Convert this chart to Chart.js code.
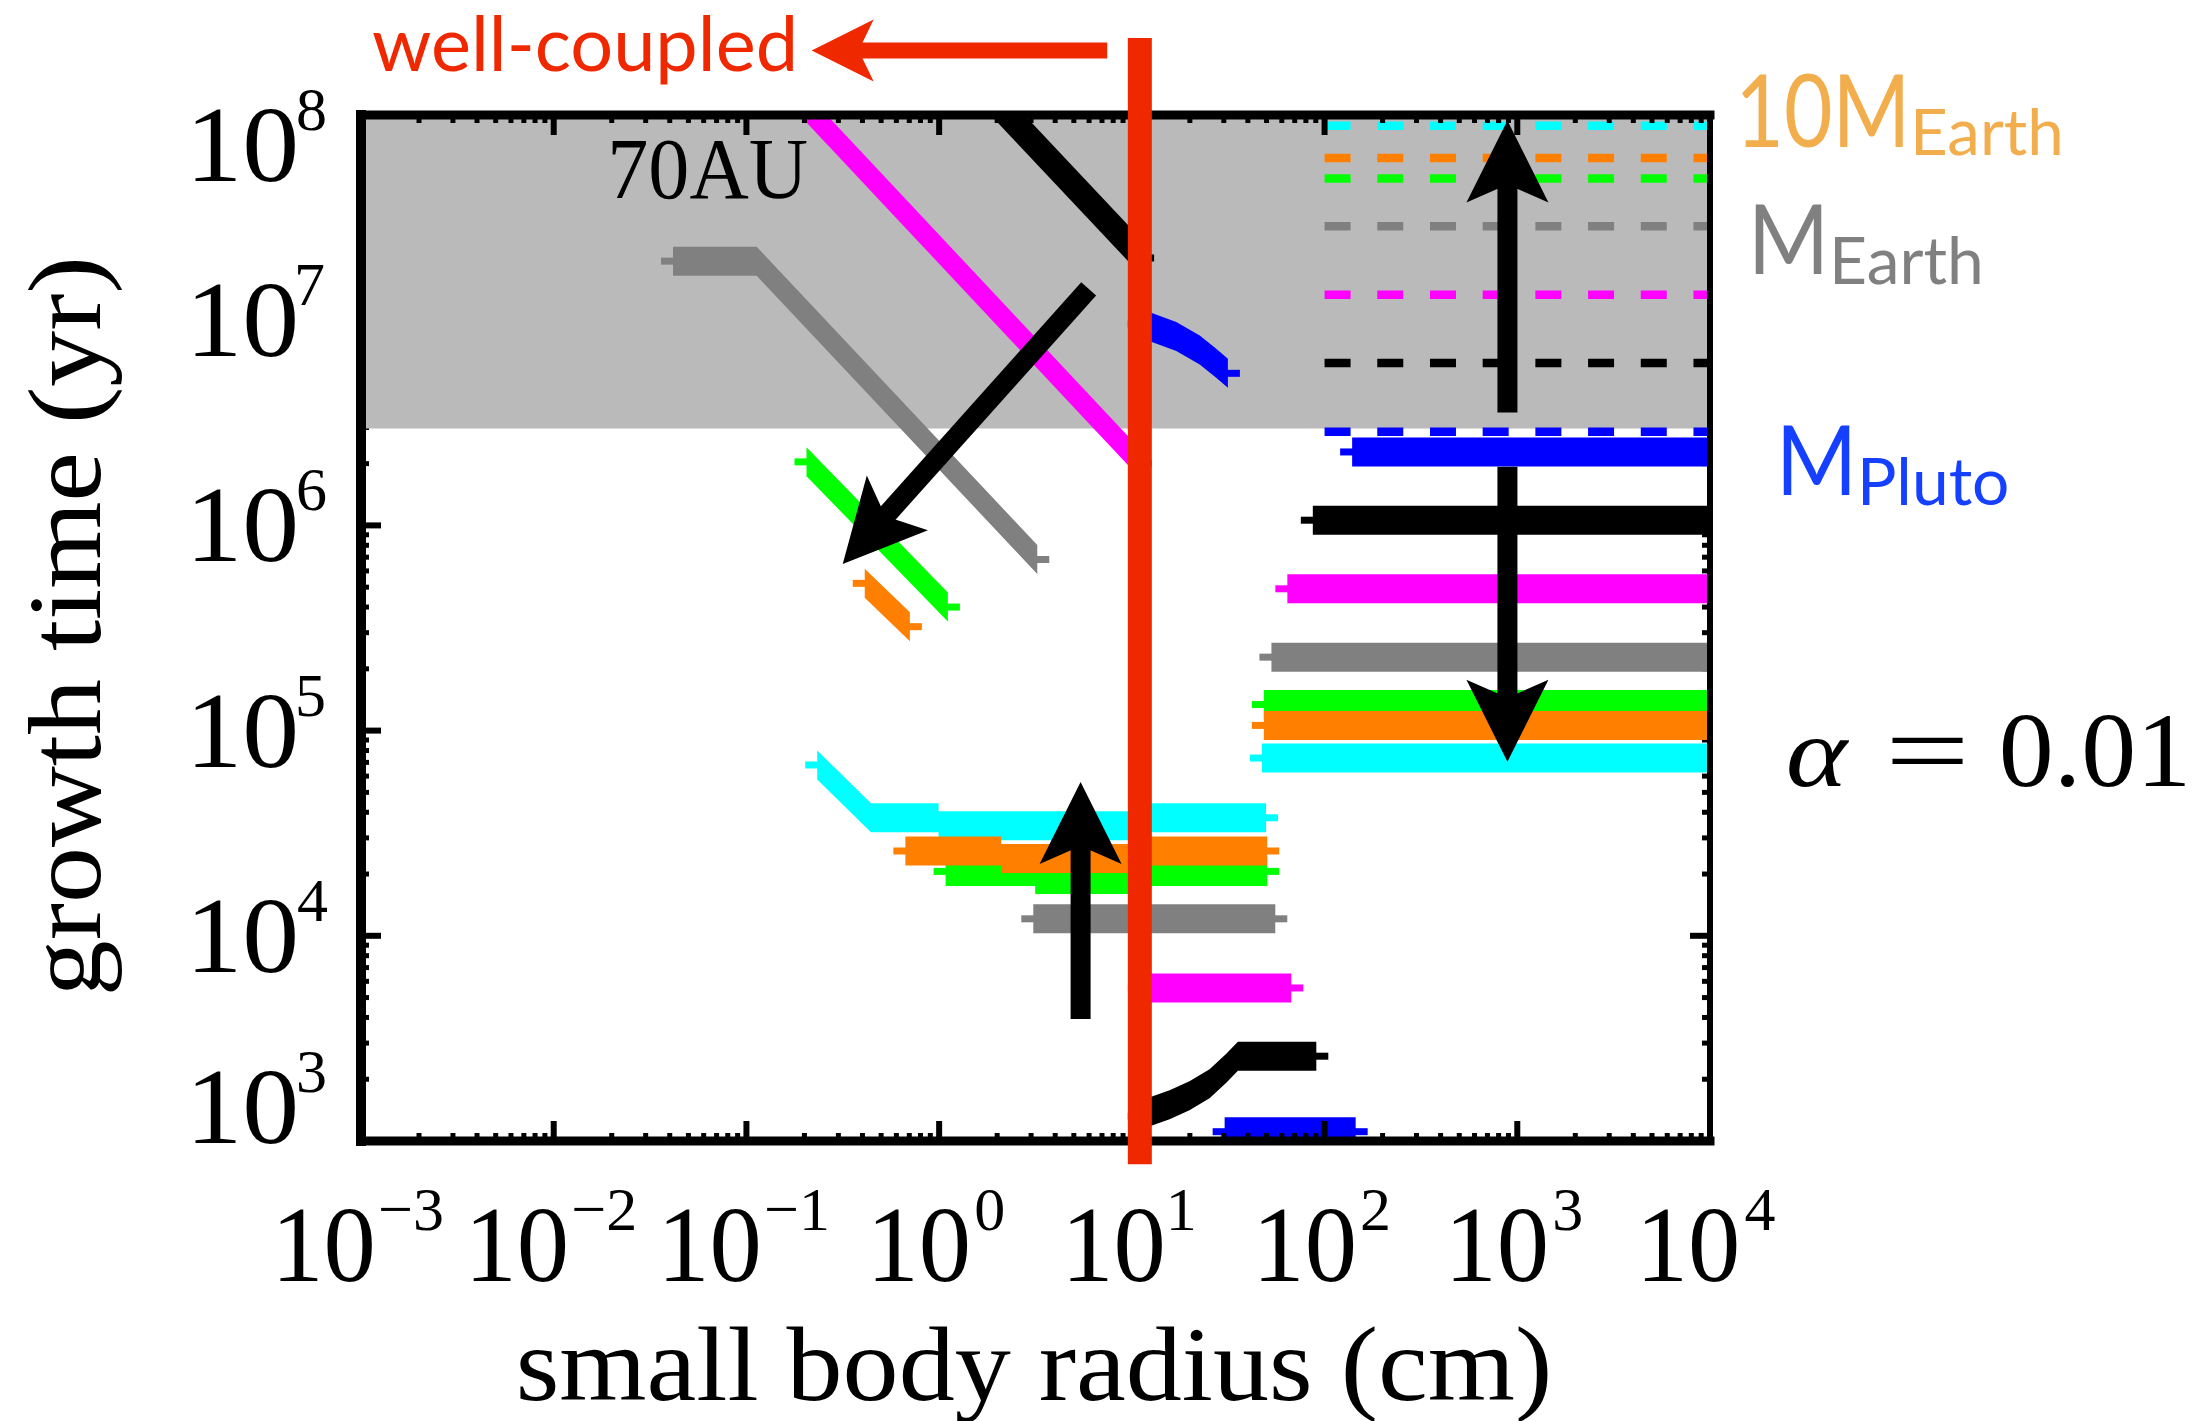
<!DOCTYPE html>
<html>
<head>
<meta charset="utf-8">
<script src="https://cdn.jsdelivr.net/npm/chart.js@4.4.1/dist/chart.umd.min.js"></script>
<style>
  html, body { margin: 0; padding: 0; background: #fff; }
  #wrap { width: 2206px; height: 1421px; }
</style>
</head>
<body>
<div id="wrap"><canvas id="chart" width="2206" height="1421"></canvas></div>
<script>
// small body radius (cm) and growth time (yr), read along the middle of each band
const cyanMidR = [0.233, 0.443, 0.993, 0.993, 11, 11, 49.7];
const cyanMidT = [6.8e4, 3.76e4, 3.76e4, 3.44e4, 3.44e4, 3.76e4, 3.76e4];
const cyanRightR = [47.3, 1e4];
const cyanRightT = [7.35e4, 7.35e4];

const greenUpR = [0.205, 1.11];
const greenUpT = [2.04e6, 4.0e5];
const greenMidR = [1.08, 3.15, 3.15, 11, 11, 50.4];
const greenMidT = [2.06e4, 2.06e4, 1.88e4, 1.88e4, 2.06e4, 2.06e4];
const greenRightR = [48.4, 1e4];
const greenRightT = [1.34e5, 1.34e5];

const orangeUpR = [0.411, 0.705];
const orangeUpT = [5.22e5, 3.21e5];
const orangeMidR = [0.668, 2.1, 2.1, 11, 11, 50.4];
const orangeMidT = [2.59e4, 2.59e4, 2.38e4, 2.38e4, 2.59e4, 2.59e4];
const orangeRightR = [48.4, 1e4];
const orangeRightT = [1.06e5, 1.06e5];

const grayUpR = [0.0416, 0.113, 3.23];
const grayUpT = [1.94e7, 1.94e7, 6.82e5];
const grayMidR = [3.08, 55.5];
const grayMidT = [1.21e4, 1.21e4];
const grayRightR = [53, 1e4];
const grayRightT = [2.28e5, 2.28e5];

const magUpR = [0.2, 11];
const magUpT = [1.11e8, 2.01e6];
const magMidR = [11, 67.2];
const magMidT = [5.57e3, 5.57e3];
const magRightR = [64.1, 1e4];
const magRightT = [4.91e5, 4.91e5];

const blackUpR = [1.9, 11.3];
const blackUpT = [1.19e8, 2.01e7];
const blackMidR = [11, 12.4, 15.7, 19.9, 25.3, 30.9, 35.5, 90.6];
const blackMidT = [1.32e3, 1.39e3, 1.5e3, 1.66e3, 1.9e3, 2.26e3, 2.59e3, 2.59e3];
const blackRightR = [86.9, 1e4];
const blackRightT = [1.06e6, 1.06e6];

const blueUpR = [11, 12.4, 17, 22.5, 27.4, 31.5];
const blueUpT = [9.6e6, 9.3e6, 8.32e6, 7.16e6, 6.17e6, 5.51e6];
const blueMidR = [30.3, 145];
const blueMidT = [1.11e3, 1.11e3];
const blueRightR = [139, 1e4];
const blueRightT = [2.28e6, 2.28e6];

// dashed mass levels on the right: cyan, orange, green, gray, magenta, black, blue
const dashR = [100, 1e4];
const dashT = [8.86e7, 6.17e7, 4.9e7, 2.87e7, 1.33e7, 6.18e6, 2.86e6];

const shadeR = [1e-3, 1e4];
const shadeLow = 2.97e6;   // bottom of the grey band
const coupledR = 11;       // well-coupled limit

// annotation arrows [radius, time]
const arrowFrom = [[5.97, 1.42e7], [5.42, 3.93e3], [889, 3.55e6], [889, 1.93e6]];
const arrowTo = [[0.316, 6.49e5], [5.42, 5.62e4], [889, 9.4e7], [889, 7.05e4]];
const redArrowFrom = [7.45, 2.06e8];
const redArrowTo = [0.218, 2.06e8];

const xTickExp = [-3, -2, -1, 0, 1, 2, 3, 4];
const yTickExp = [3, 4, 5, 6, 7, 8];

const BAND = 29;
const STUB = 12;
const RED = '#f02800';

const pts = (r, t) => r.map((v, i) => ({ x: v, y: t[i] }));

const series = [
  ['#00ffff', [[cyanMidR, cyanMidT], [cyanRightR, cyanRightT]]],
  ['#00ff00', [[greenUpR, greenUpT], [greenMidR, greenMidT], [greenRightR, greenRightT]]],
  ['#ff8000', [[orangeUpR, orangeUpT], [orangeMidR, orangeMidT], [orangeRightR, orangeRightT]]],
  ['#808080', [[grayUpR, grayUpT], [grayMidR, grayMidT], [grayRightR, grayRightT]]],
  ['#ff00ff', [[magUpR, magUpT], [magMidR, magMidT], [magRightR, magRightT]]],
  ['#000000', [[blackUpR, blackUpT, 36], [blackMidR, blackMidT], [blackRightR, blackRightT]]],
  ['#0000ff', [[blueUpR, blueUpT], [blueMidR, blueMidT], [blueRightR, blueRightT]]]
];
const dashColors = ['#00ffff', '#ff8000', '#00ff00', '#808080', '#ff00ff', '#000000', '#0000ff'];

const datasets = [];
datasets.push({
  data: pts(shadeR, [shadeLow, shadeLow]),
  borderWidth: 0, pointRadius: 0, fill: 'end', backgroundColor: '#bababa'
});
dashT.forEach((t, i) => datasets.push({
  data: pts(dashR, [t, t]),
  borderColor: dashColors[i], borderWidth: 8.5, borderDash: [26, 26.7],
  pointRadius: 0, fill: false
}));
series.forEach(([color, segs]) => segs.forEach(([r, t, w]) => datasets.push({
  data: pts(r, t), borderWidth: 0, pointRadius: 0, fill: false,
  band: true, bandColor: color, bandPx: w || BAND
})));
datasets.forEach((d, i) => { d.order = -i; });

function line(ctx, x0, y0, x1, y1) {
  ctx.beginPath(); ctx.moveTo(x0, y0); ctx.lineTo(x1, y1); ctx.stroke();
}

// draws s with its ink starting at x; if width is given the ink is fitted to it
function text(ctx, s, x, y, font, color, width) {
  ctx.font = font; ctx.fillStyle = color;
  ctx.textAlign = 'left'; ctx.textBaseline = 'alphabetic';
  const m = ctx.measureText(s);
  const ink = m.actualBoundingBoxLeft + m.actualBoundingBoxRight;
  const k = width ? width / ink : 1;
  ctx.save();
  ctx.translate(x + m.actualBoundingBoxLeft * k, y); ctx.scale(k, 1);
  ctx.fillText(s, 0, 0);
  ctx.restore();
  return ink * k;
}

function inkWidth(ctx, s, font) {
  ctx.font = font;
  const m = ctx.measureText(s);
  return m.actualBoundingBoxLeft + m.actualBoundingBoxRight;
}

function arrow(ctx, x0, y0, x1, y1, o) {
  const d = Math.hypot(x1 - x0, y1 - y0), ux = (x1 - x0) / d, uy = (y1 - y0) / d;
  const px = -uy, py = ux;
  const nx = x1 - ux * o.notch, ny = y1 - uy * o.notch;
  const bx = x1 - ux * o.len, by = y1 - uy * o.len;
  ctx.strokeStyle = o.color; ctx.fillStyle = o.color; ctx.lineWidth = o.width; ctx.lineCap = 'butt';
  line(ctx, x0, y0, nx + ux * 4, ny + uy * 4);
  ctx.beginPath();
  ctx.moveTo(x1, y1);
  ctx.lineTo(bx + px * o.half, by + py * o.half);
  ctx.lineTo(nx, ny);
  ctx.lineTo(bx - px * o.half, by - py * o.half);
  ctx.closePath(); ctx.fill();
}

function ticks(chart, sides) {
  const ctx = chart.ctx, a = chart.chartArea, xs = chart.scales.x, ys = chart.scales.y;
  ctx.save();
  ctx.strokeStyle = '#000'; ctx.lineCap = 'butt';
  for (let e = -3; e <= 4; e++) {
    for (let m = 1; m <= 9; m++) {
      const v = m * Math.pow(10, e);
      if (v > 1.0001e4) break;
      const p = xs.getPixelForValue(v), len = m === 1 ? 20 : 8;
      ctx.lineWidth = m === 1 ? 6 : 5;
      if (sides.bottom) line(ctx, p, a.bottom, p, a.bottom - len);
      if (sides.top) line(ctx, p, a.top, p, a.top + len);
    }
  }
  for (let e = 3; e <= 8; e++) {
    for (let m = 1; m <= 9; m++) {
      const v = m * Math.pow(10, e);
      if (v > 1.0001e8) break;
      const p = ys.getPixelForValue(v), len = m === 1 ? 20 : 8;
      ctx.lineWidth = m === 1 ? 6 : 5;
      if (sides.left) line(ctx, a.left, p, a.left + len, p);
      if (sides.right) line(ctx, a.right, p, a.right - len, p);
    }
  }
  ctx.restore();
}

const bandPlugin = {
  id: 'bands',
  afterDatasetDraw(chart, args) {
    const ds = chart.data.datasets[args.index];
    if (!ds.band) return;
    const p = args.meta.data, ctx = chart.ctx, a = chart.chartArea, h = ds.bandPx / 2;
    ctx.save();
    ctx.beginPath(); ctx.rect(a.left, a.top, a.right - a.left, a.bottom - a.top); ctx.clip();
    ctx.fillStyle = ds.bandColor;
    ctx.beginPath();
    p.forEach((q, i) => i ? ctx.lineTo(q.x, q.y - h) : ctx.moveTo(q.x, q.y - h));
    for (let i = p.length - 1; i >= 0; i--) ctx.lineTo(p[i].x, p[i].y + h);
    ctx.closePath(); ctx.fill();
    const f = p[0], l = p[p.length - 1];
    ctx.fillRect(f.x - STUB, f.y - 3.5, STUB + 1, 7);
    ctx.fillRect(l.x - 1, l.y - 3.5, STUB + 1, 7);
    ctx.restore();
  }
};

const decorPlugin = {
  id: 'decor',
  beforeDatasetsDraw(chart) {
    ticks(chart, { left: true, right: true });
  },
  afterDatasetsDraw(chart) {
    const ctx = chart.ctx, a = chart.chartArea, xs = chart.scales.x, ys = chart.scales.y;
    ticks(chart, { top: true, bottom: true });

    ctx.save();
    ctx.strokeStyle = '#000'; ctx.lineCap = 'square';
    ctx.lineWidth = 10; line(ctx, a.left, a.top, a.left, a.bottom);
    ctx.lineWidth = 9; line(ctx, a.left, a.top, a.right, a.top);
    line(ctx, a.left, a.bottom, a.right, a.bottom);
    ctx.lineWidth = 6; line(ctx, a.right, a.top, a.right, a.bottom);

    const black = { color: '#000', width: 20, len: 82, half: 41, notch: 64 };
    arrowFrom.forEach((f, i) => {
      const t = arrowTo[i];
      arrow(ctx, xs.getPixelForValue(f[0]), ys.getPixelForValue(f[1]),
        xs.getPixelForValue(t[0]), ys.getPixelForValue(t[1]), black);
    });

    // well-coupled limit
    ctx.strokeStyle = RED; ctx.lineWidth = 24; ctx.lineCap = 'butt';
    const rx = xs.getPixelForValue(coupledR);
    line(ctx, rx, ys.getPixelForValue(2.37e8), rx, ys.getPixelForValue(770));
    arrow(ctx, xs.getPixelForValue(redArrowFrom[0]), ys.getPixelForValue(redArrowFrom[1]),
      xs.getPixelForValue(redArrowTo[0]), ys.getPixelForValue(redArrowTo[1]),
      { color: RED, width: 16, len: 62, half: 31, notch: 47 });

    // tick labels
    const serif = '"Liberation Serif", "Times New Roman", serif';
    const big = '108px ' + serif, small = '62px ' + serif;
    xTickExp.forEach(e => {
      const px = xs.getPixelForValue(Math.pow(10, e));
      const ex = e < 0 ? '\u2212' + (-e) : String(e);
      const ew = inkWidth(ctx, ex, small);
      const x0 = px - (92 + 9 + ew) / 2;
      text(ctx, '10', x0, 1281, big, '#000', 92);
      text(ctx, ex, x0 + 101, 1230, small, '#000');
    });
    yTickExp.forEach(e => {
      const py = ys.getPixelForValue(Math.pow(10, e));
      const c = Math.min(Math.max(py, a.top + 30), a.bottom - 34);
      text(ctx, '10', 195, c + 36, big, '#000', 100);
      text(ctx, String(e), 298, c - 15, small, '#000');
    });

    // axis titles
    text(ctx, 'small body radius (cm)', 520, 1400, '105px ' + serif, '#000', 1028);
    ctx.save();
    ctx.translate(100, 992); ctx.rotate(-Math.PI / 2);
    text(ctx, 'growth time (yr)', 0, 0, '104px ' + serif, '#000', 732);
    ctx.restore();

    // annotations
    const sans = 'Lato, "Open Sans", sans-serif';
    text(ctx, 'well-coupled', 373, 71, '75px ' + sans, RED, 420);
    text(ctx, '70AU', 612, 198, '86px ' + serif, '#000', 195);
    text(ctx, '10M', 1742, 147, '100px ' + sans, '#f2ad4d', 161);
    text(ctx, 'Earth', 1915, 155, '64px ' + sans, '#f2ad4d', 145);
    text(ctx, 'M', 1755, 274, '97px ' + sans, '#808080', 67);
    text(ctx, 'Earth', 1835, 284, '66px ' + sans, '#808080', 145);
    text(ctx, 'M', 1783, 495, '97px ' + sans, '#1640ff', 67);
    text(ctx, 'Pluto', 1863, 505, '66px ' + sans, '#1640ff', 144);
    text(ctx, '\u03b1', 1788, 786, 'italic 100px ' + serif, '#000', 62);
    text(ctx, '=', 1892, 786, '106px ' + serif, '#000', 71);
    text(ctx, '0.01', 2003, 786, '106px ' + serif, '#000', 182);
    ctx.restore();
  }
};

new Chart(document.getElementById('chart'), {
  type: 'line',
  data: { datasets },
  options: {
    responsive: false,
    animation: false,
    devicePixelRatio: 1,
    layout: { padding: { left: 361, top: 115, right: 2206 - 1710, bottom: 1421 - 1141 } },
    plugins: { legend: { display: false }, tooltip: { enabled: false } },
    scales: {
      x: { type: 'logarithmic', min: 1e-3, max: 1e4, display: false },
      y: { type: 'logarithmic', min: 1e3, max: 1e8, display: false }
    }
  },
  plugins: [bandPlugin, decorPlugin]
});
</script>
</body>
</html>
